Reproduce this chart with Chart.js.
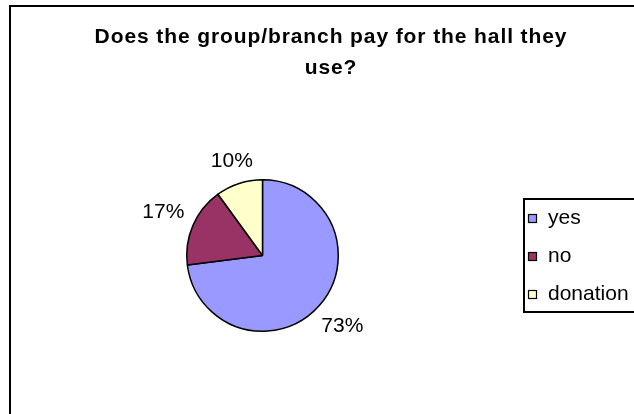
<!DOCTYPE html>
<html>
<head>
<meta charset="utf-8">
<script src="https://cdn.jsdelivr.net/npm/chart.js@4"></script>
<style>
	html, body { margin: 0; padding: 0; background: #fff; overflow: hidden; width: 634px; height: 414px; }
	#frame { position: absolute; left: 9px; top: 5px; border: 2px solid #000; width: 640px; height: 420px; background: #fff; }
	#chart { display: block; }
</style>
</head>
<body>
<div id="frame"><canvas id="chart" width="640" height="420"></canvas></div>
<script>
const titleLines = ['Does the group/branch pay for the hall they', 'use?'];
const categories = ['yes', 'no', 'donation'];
const shares = [73, 17, 10];
const sliceColors = ['#9999FF', '#993366', '#FFFFCC'];

const FONT = '"Liberation Sans", Arial, sans-serif';

// title drawn by hand so the letter spacing can match
const titlePlugin = {
	id: 'titleText',
	afterDraw(chart) {
		const ctx = chart.ctx;
		ctx.save();
		ctx.font = 'bold 21px ' + FONT;
		ctx.fillStyle = '#000';
		ctx.textAlign = 'center';
		ctx.textBaseline = 'alphabetic';
		if ('letterSpacing' in ctx) ctx.letterSpacing = '0.9px';
		const cx = chart.width / 2;
		titleLines.forEach((line, i) => ctx.fillText(line, cx, 36 + i * 31));
		ctx.restore();
	}
};

// percentage labels outside each slice
const sliceLabels = {
	id: 'sliceLabels',
	afterDatasetsDraw(chart) {
		const ctx = chart.ctx;
		const meta = chart.getDatasetMeta(0);
		const total = shares.reduce((a, b) => a + b, 0);
		ctx.save();
		ctx.font = '21px ' + FONT;
		ctx.fillStyle = '#000';
		ctx.textAlign = 'center';
		ctx.textBaseline = 'middle';
		meta.data.forEach((arc, i) => {
			const text = Math.round(shares[i] / total * 100) + '%';
			const mid = (arc.startAngle + arc.endAngle) / 2;
			const w = ctx.measureText(text).width;
			const h = 15;
			const d = arc.outerRadius + 10 + Math.abs(Math.cos(mid)) * w / 2 + Math.abs(Math.sin(mid)) * h / 2;
			ctx.fillText(text, arc.x + Math.cos(mid) * d, arc.y + Math.sin(mid) * d);
		});
		ctx.restore();
	}
};

// boxed legend on the right, like the original
const boxLegend = {
	id: 'boxLegend',
	afterDraw(chart) {
		const ctx = chart.ctx;
		const left = 513, top = 192, height = 113;
		ctx.save();
		ctx.strokeStyle = '#000';
		ctx.lineWidth = 2;
		ctx.strokeRect(left, top, 300, height);
		ctx.font = '21px ' + FONT;
		ctx.textBaseline = 'alphabetic';
		ctx.textAlign = 'left';
		categories.forEach((name, i) => {
			const base = 217 + i * 38;
			ctx.fillStyle = sliceColors[i];
			ctx.fillRect(517.5, base - 9.5, 8, 8);
			ctx.lineWidth = 1.2;
			ctx.strokeRect(517.5, base - 9.5, 8, 8);
			ctx.fillStyle = '#000';
			ctx.fillText(name, 537, base);
		});
		ctx.restore();
	}
};

new Chart(document.getElementById('chart'), {
	type: 'pie',
	data: {
		labels: categories,
		datasets: [{
			data: shares,
			backgroundColor: sliceColors,
			borderColor: '#000',
			borderWidth: 1.5
		}]
	},
	options: {
		responsive: false,
		animation: false,
		events: [],
		layout: { padding: { left: 175, top: 172, right: 312, bottom: 95 } },
		plugins: {
			legend: { display: false },
			title: { display: false },
			tooltip: { enabled: false }
		}
	},
	plugins: [titlePlugin, sliceLabels, boxLegend]
});
</script>
</body>
</html>
